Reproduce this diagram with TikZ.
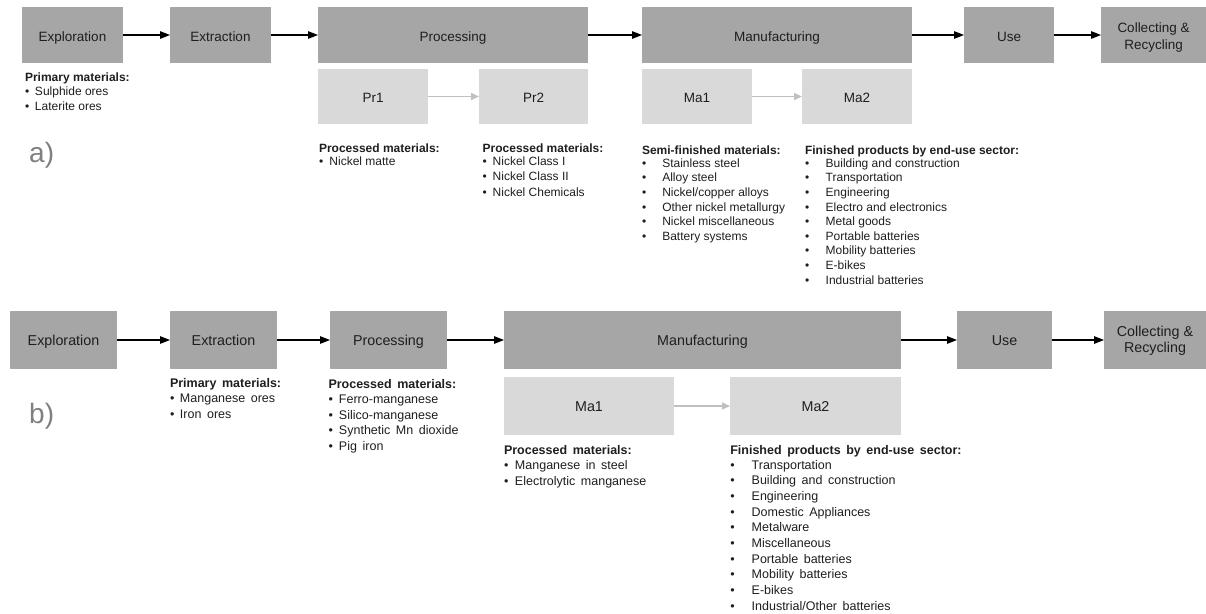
\documentclass[tikz,border=0pt]{standalone}
\usepackage{fontspec}
\setmainfont{Liberation Sans}
\newfontfamily\widesp[WordSpace=1.6]{Liberation Sans}
\usetikzlibrary{arrows.meta}

\definecolor{stagegray}{HTML}{A6A6A6}
\definecolor{subgray}{HTML}{D9D9D9}
\definecolor{labelgray}{HTML}{808080}
\definecolor{linkgray}{HTML}{C0C0C0}
\definecolor{ink}{HTML}{1E1E1E}

% bullet in a fixed-width box, followed by the item text
\newcommand\blt[2]{\makebox[#1][l]{•}#2}

\tikzset{
  stage/.style={fill=stagegray, draw=none, inner sep=0pt, outer sep=0pt, text=ink, align=center},
  substage/.style={fill=subgray, draw=none, inner sep=0pt, outer sep=0pt, text=ink, align=center},
  flow/.style={-{Triangle[length=10pt,width=7.5pt]}, line width=1.3pt, black},
  subflow/.style={-{Triangle[length=8pt,width=7pt]}, line width=1.5pt, linkgray},
  listA/.style={inner sep=0pt, outer sep=0pt, anchor=base west, text=ink, font=\fontsize{12}{13.3}\selectfont},
  listB/.style={inner sep=0pt, outer sep=0pt, anchor=base west, text=ink, font=\widesp\fontsize{12.5}{15}\selectfont},
  fontA/.style={font=\fontsize{13.5}{17.5}\selectfont, text height=12pt, text depth=0pt},
  fontB/.style={font=\fontsize{14.3}{16.5}\selectfont, text height=11pt, text depth=0pt},
  twoline/.style={text height={}, text depth={}},
  panel/.style={anchor=base west, inner sep=0pt, text=labelgray, font=\fontsize{28}{30}\selectfont}
}

\begin{document}
\begin{tikzpicture}[x=1pt,y=-1pt]
\useasboundingbox (0,0) rectangle (1206,613);

% ---------------- nickel chain (a) ----------------
\node[stage,fontA,minimum width=101pt,minimum height=56pt] (expA) at (72.5,35) {Exploration};
\node[stage,fontA,minimum width=101pt,minimum height=56pt] (extA) at (220.5,35) {Extraction};
\node[stage,fontA,minimum width=270pt,minimum height=56pt] (proA) at (453,35) {Processing};
\node[stage,fontA,minimum width=270pt,minimum height=56pt] (manA) at (777,35) {Manufacturing};
\node[stage,fontA,minimum width=90pt,minimum height=56pt] (useA) at (1009,35) {Use};
\node[stage,fontA,twoline,minimum width=105pt,minimum height=56pt] (colA) at (1153.5,35)
  {\rule{0pt}{15pt}Collecting \&\\Recycling};

\node[substage,fontA,minimum width=110pt,minimum height=55pt] (pr1A) at (373,96.5) {Pr1};
\node[substage,fontA,minimum width=109pt,minimum height=55pt] (pr2A) at (533.5,96.5) {Pr2};
\node[substage,fontA,minimum width=110pt,minimum height=55pt] (ma1A) at (697,96.5) {Ma1};
\node[substage,fontA,minimum width=110pt,minimum height=55pt] (ma2A) at (857,96.5) {Ma2};

\draw[flow] (expA) -- (extA);
\draw[flow] (extA) -- (proA);
\draw[flow] (proA) -- (manA);
\draw[flow] (manA) -- (useA);
\draw[flow] (useA) -- (colA);
\draw[subflow] (pr1A) -- (pr2A);
\draw[subflow] (ma1A) -- (ma2A);

\node[listA] (primA) at (25,81.7) {\begin{tabular}[t]{@{}l@{}}
  \textbf{Primary materials:}\\
  \blt{10pt}{Sulphide ores}\\[2pt]
  \blt{10pt}{Laterite ores}
\end{tabular}};

\node[listA] (pr1txt) at (319,152.5) {\begin{tabular}[t]{@{}l@{}}
  \textbf{Processed materials:}\\
  \blt{10.5pt}{Nickel matte}
\end{tabular}};

\node[listA] (pr2txt) at (482.7,152.5) {\begin{tabular}[t]{@{}l@{}}
  \textbf{Processed materials:}\\
  \blt{10pt}{Nickel Class I}\\[1.8pt]
  \blt{10pt}{Nickel Class II}\\[1.8pt]
  \blt{10pt}{Nickel Chemicals}
\end{tabular}};

\node[listA] (ma1txt) at (642,154) {\begin{tabular}[t]{@{}l@{}}
  \textbf{Semi-finished materials:}\\
  \blt{20.3pt}{Stainless steel}\\[1.3pt]
  \blt{20.3pt}{Alloy steel}\\[1.3pt]
  \blt{20.3pt}{Nickel/copper alloys}\\[1.3pt]
  \blt{20.3pt}{Other nickel metallurgy}\\[1.3pt]
  \blt{20.3pt}{Nickel miscellaneous}\\[1.3pt]
  \blt{20.3pt}{Battery systems}
\end{tabular}};

\node[listA] (ma2txt) at (805,154) {\begin{tabular}[t]{@{}l@{}}
  \textbf{Finished products by end-use sector:}\\
  \blt{20.7pt}{Building and construction}\\[1.3pt]
  \blt{20.7pt}{Transportation}\\[1.3pt]
  \blt{20.7pt}{Engineering}\\[1.3pt]
  \blt{20.7pt}{Electro and electronics}\\[1.3pt]
  \blt{20.7pt}{Metal goods}\\[1.3pt]
  \blt{20.7pt}{Portable batteries}\\[1.3pt]
  \blt{20.7pt}{Mobility batteries}\\[1.3pt]
  \blt{20.7pt}{E-bikes}\\[1.3pt]
  \blt{20.7pt}{Industrial batteries}
\end{tabular}};

\node[panel] (tagA) at (29,162.3) {a)};

% ---------------- manganese chain (b) ----------------
\node[stage,fontB,minimum width=107pt,minimum height=58pt] (expB) at (63.5,340) {Exploration};
\node[stage,fontB,minimum width=107pt,minimum height=58pt] (extB) at (223.5,340) {Extraction};
\node[stage,fontB,minimum width=117pt,minimum height=58pt] (proB) at (388.5,340) {Processing};
\node[stage,fontB,minimum width=397pt,minimum height=58pt] (manB) at (702.5,340) {Manufacturing};
\node[stage,fontB,minimum width=95pt,minimum height=58pt] (useB) at (1004.5,340) {Use};
\node[stage,fontB,twoline,minimum width=102pt,minimum height=58pt] (colB) at (1155,340)
  {\rule{0pt}{12pt}Collecting \&\\Recycling};

\node[substage,fontB,minimum width=170pt,minimum height=58pt] (ma1B) at (589,406) {Ma1};
\node[substage,fontB,minimum width=171pt,minimum height=58pt] (ma2B) at (815.5,406) {Ma2};

\draw[flow] (expB) -- (extB);
\draw[flow] (extB) -- (proB);
\draw[flow] (proB) -- (manB);
\draw[flow] (manB) -- (useB);
\draw[flow] (useB) -- (colB);
\draw[subflow] (ma1B) -- (ma2B);

\node[listB] (primB) at (170,387.3) {\begin{tabular}[t]{@{}l@{}}
  \textbf{Primary materials:}\\[0.5pt]
  \blt{10pt}{Manganese ores}\\[0.5pt]
  \blt{10pt}{Iron ores}
\end{tabular}};

\node[listB] (procB) at (328.5,388.3) {\begin{tabular}[t]{@{}l@{}}
  \textbf{Processed materials:}\\[0.5pt]
  \blt{10.5pt}{Ferro-manganese}\\[0.5pt]
  \blt{10.5pt}{Silico-manganese}\\[0.5pt]
  \blt{10.5pt}{Synthetic Mn dioxide}\\[0.5pt]
  \blt{10.5pt}{Pig iron}
\end{tabular}};

\node[listB] (ma1Btxt) at (504,454) {\begin{tabular}[t]{@{}l@{}}
  \textbf{Processed materials:}\\
  \blt{11pt}{Manganese in steel}\\[1pt]
  \blt{11pt}{Electrolytic manganese}
\end{tabular}};

\node[listB] (ma2Btxt) at (730.3,454) {\begin{tabular}[t]{@{}l@{}}
  \textbf{Finished products by end-use sector:}\\
  \blt{21.4pt}{Transportation}\\[0.7pt]
  \blt{21.4pt}{Building and construction}\\[0.7pt]
  \blt{21.4pt}{Engineering}\\[0.7pt]
  \blt{21.4pt}{Domestic Appliances}\\[0.7pt]
  \blt{21.4pt}{Metalware}\\[0.7pt]
  \blt{21.4pt}{Miscellaneous}\\[0.7pt]
  \blt{21.4pt}{Portable batteries}\\[0.7pt]
  \blt{21.4pt}{Mobility batteries}\\[0.7pt]
  \blt{21.4pt}{E-bikes}\\[0.7pt]
  \blt{21.4pt}{Industrial/Other batteries}
\end{tabular}};

\node[panel] (tagB) at (29,423.3) {b)};
\end{tikzpicture}
\end{document}
